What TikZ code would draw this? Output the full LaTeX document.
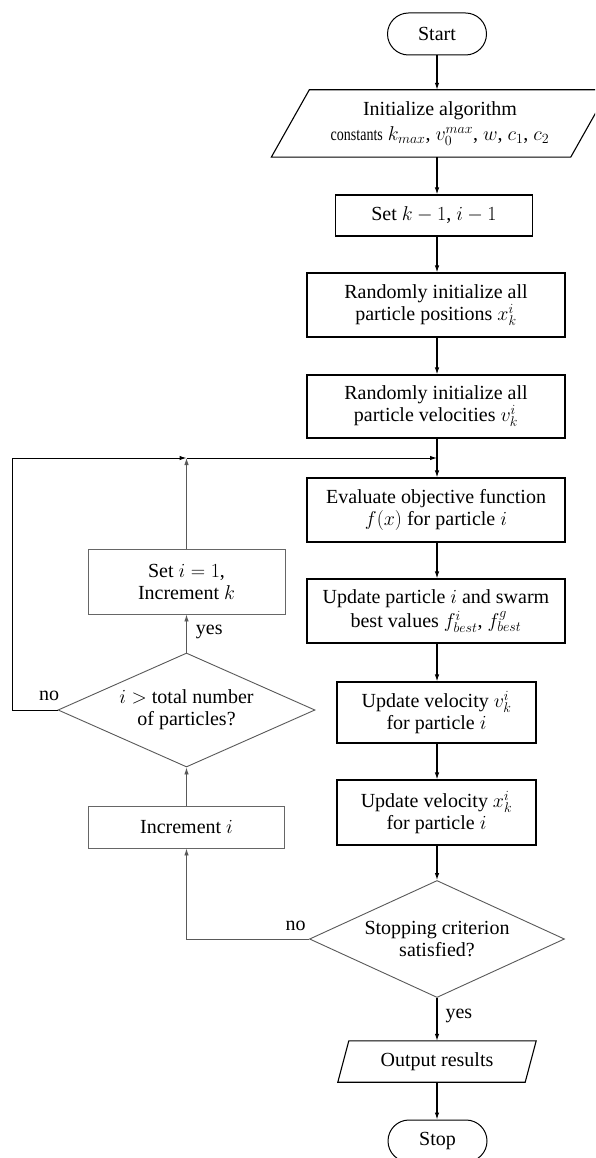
\documentclass[tikz,border=0pt]{standalone}
\usepackage{fix-cm}
\usepackage[no-math]{fontspec}
\setmainfont{Liberation Serif}
\usetikzlibrary{shapes.geometric,shapes.misc,arrows.meta}
\tikzset{
  txt/.style={font=\fontsize{20}{22}\selectfont, align=center, inner sep=0pt},
  mainbox/.style={txt, draw=black, line width=1.1pt, rectangle},
  sidebox/.style={txt, draw=black!60, line width=0.9pt, rectangle},
  term/.style={txt, draw=black, line width=1pt, rounded rectangle, minimum width=99pt, minimum height=42pt},
  pgtext/.style={txt},
  decide/.style={txt, draw=black!65, line width=0.9pt, diamond, aspect=2.25},
  arr/.style={-{Latex[length=7pt,width=4.5pt]}, line width=1.1pt, draw=black},
  sidearr/.style={-{Latex[length=7pt,width=4.5pt]}, line width=0.9pt, draw=black!65},
  lbl/.style={font=\fontsize{20}{22}\selectfont, inner sep=0pt}
}
\begin{document}
\begin{tikzpicture}[x=1pt,y=-1pt]
\clip (0,0) rectangle (595,1158);
\fill[white] (0,0) rectangle (595,1158);

% main column
\node[term] (start) at (437,34) {Start};
\node[pgtext, minimum width=299pt, minimum height=67pt] (init) at (440,123.5)
  {Initialize algorithm\\[3pt] \scalebox{0.7}[0.9]{constants} $k_{max}$, $v_0^{max}$, $w$, $c_1$, $c_2$};
\draw[line width=1.1pt] ([xshift=-19pt]init.south west) -- ([xshift=-19pt]init.south east)
  -- ([xshift=19pt]init.north east) -- ([xshift=19pt]init.north west) -- cycle;
\node[mainbox, minimum width=197pt, minimum height=41pt] (setk) at (434,215.5) {Set $k - 1$, $i - 1$};
\node[mainbox, minimum width=258pt, minimum height=64pt] (rpos) at (436,305)
  {Randomly initialize all\\ particle positions $x_k^i$};
\node[mainbox, minimum width=258pt, minimum height=63pt] (rvel) at (436,406.5)
  {Randomly initialize all\\ particle velocities $v_k^i$};
\node[mainbox, minimum width=258pt, minimum height=64pt] (eval) at (436,510)
  {Evaluate objective function\\ $f(x)$ for particle $i$};
\node[mainbox, minimum width=258pt, minimum height=64pt] (upd) at (436,611)
  {Update particle $i$ and swarm\\[2pt] best values $f^i_{best}$, $f^g_{best}$};
\node[mainbox, minimum width=199pt, minimum height=61pt] (updv) at (436.5,712.5)
  {Update velocity $v_k^i$\\ for particle $i$};
\node[mainbox, minimum width=199pt, minimum height=65pt] (updx) at (436.5,812.5)
  {Update velocity $x_k^i$\\ for particle $i$};
\node[decide, minimum width=255pt, minimum height=117pt] (stopc) at (437,939)
  {Stopping criterion\\ satisfied?};
\node[pgtext, minimum width=187pt, minimum height=41pt] (out) at (437,1061.5) {Output results};
\draw[line width=1.1pt] ([xshift=-5.5pt]out.south west) -- ([xshift=-5.5pt]out.south east)
  -- ([xshift=5.5pt]out.north east) -- ([xshift=5.5pt]out.north west) -- cycle;
\node[term] (stop) at (437.5,1141) {Stop};

% side column
\node[sidebox, minimum width=197pt, minimum height=65pt] (seti) at (186.5,581.5)
  {Set $i = 1$,\\ Increment $k$};
\node[decide, minimum width=257pt, minimum height=114pt] (tot) at (186.5,710)
  {$i >$ total number\\ of particles?};
\node[sidebox, minimum width=196pt, minimum height=42pt] (inci) at (186.5,827) {Increment $i$};

\coordinate (J) at (437,458);
\coordinate (M) at (186.5,458);
\coordinate (L) at (12,458);

% main connectors
\draw[arr] (start.south) -- (init.north -| start);
\draw[arr] (init.south -| start) -- (setk.north -| start);
\draw[arr] (setk.south -| start) -- (rpos.north -| start);
\draw[arr] (rpos.south -| start) -- (rvel.north -| start);
\draw[arr] (rvel.south -| start) -- (eval.north -| start);
\draw[arr] (eval.south -| start) -- (upd.north -| start);
\draw[arr] (upd.south -| start) -- (updv.north -| start);
\draw[arr] (updv.south -| start) -- (updx.north -| start);
\draw[arr] (updx.south -| start) -- (stopc.north);
\draw[arr] (stopc.south) -- node[lbl, pos=0.42, anchor=west, xshift=8pt] {yes} (out.north -| start);
\draw[arr] (out.south -| start) -- (stop.north -| start);

% side connectors
\draw[sidearr] (stopc.west) -| node[lbl, pos=0, anchor=south east, xshift=-3pt, yshift=8pt] {no} (inci.south);
\draw[sidearr] (inci.north) -- (tot.south);
\draw[sidearr] (tot.north) -- node[lbl, midway, anchor=west, xshift=9pt, yshift=2pt] {yes} (seti.south);
\draw[sidearr] (seti.north) -- (M);
\draw[arr, line width=1pt] (tot.west) -- node[lbl, pos=0, anchor=south east, xshift=2pt, yshift=9pt] {no} (L |- tot.west) -- (L) -- (M);
\draw[arr, line width=1pt] (M) -- (J);
\end{tikzpicture}
\end{document}
